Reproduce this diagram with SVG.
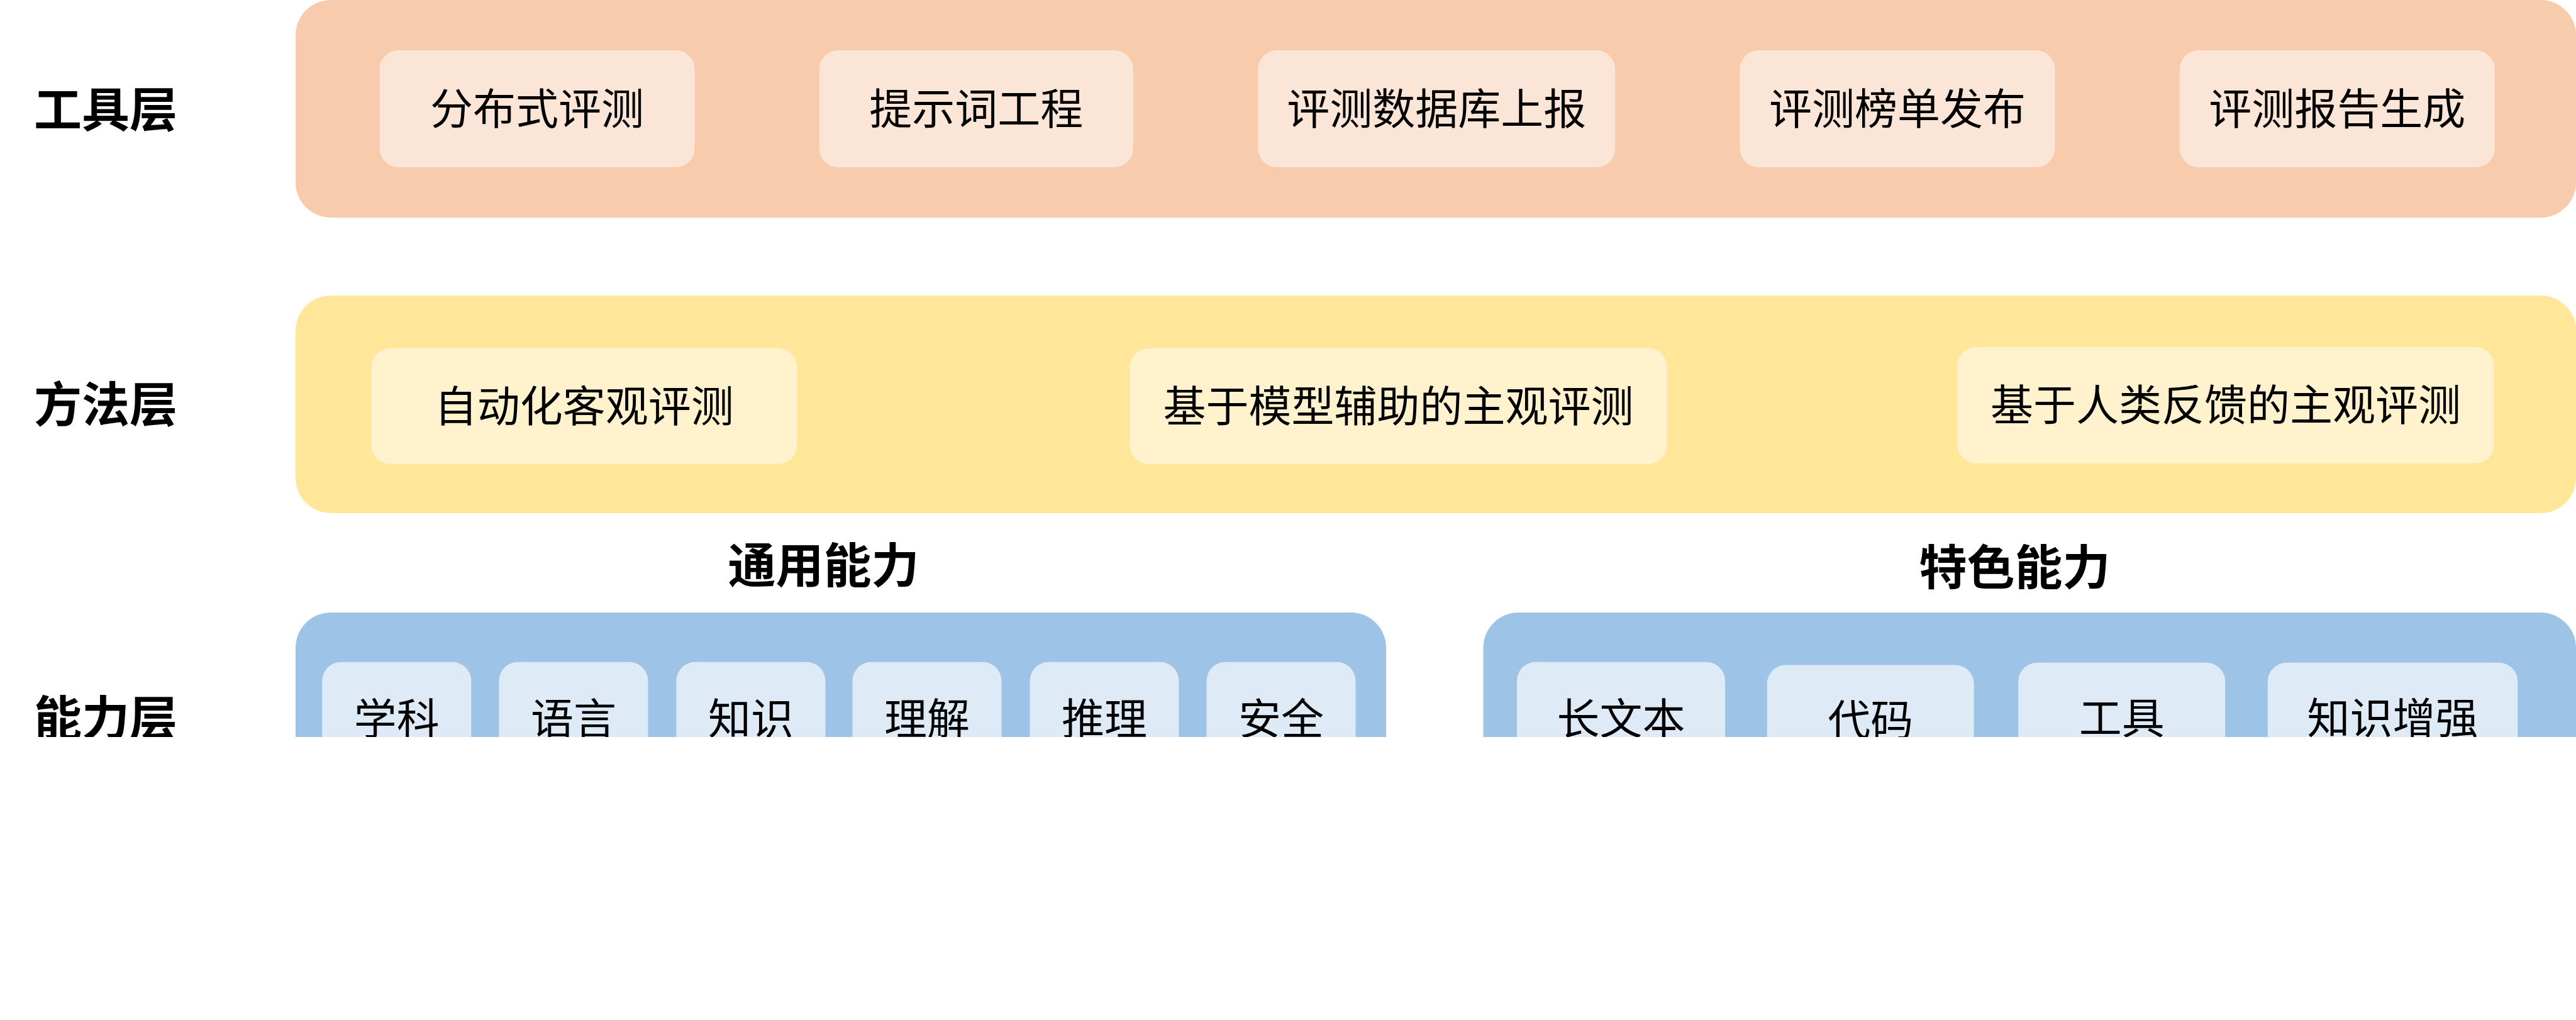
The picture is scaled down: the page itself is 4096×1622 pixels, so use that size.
<svg xmlns="http://www.w3.org/2000/svg" width="4096" height="1622" viewBox="0 0 4096 1622">
<defs>
<style>
.lbl{font-family:"Noto Sans CJK SC","Noto Sans",sans-serif;font-weight:700;font-size:76px;fill:#000;text-anchor:middle;dominant-baseline:central}
.t{font-family:"Noto Sans CJK SC","Noto Sans",sans-serif;font-weight:400;font-size:68px;fill:#000;text-anchor:middle;dominant-baseline:central}
.tool{fill:#F7CBAC}.toolIn{fill:#FBE5D6}
.meth{fill:#FFE699}.methIn{fill:#FFF2CC}
.cap{fill:#9DC3E6}.capIn{fill:#DEEBF7}
</style>
<clipPath id="cut"><rect x="0" y="0" width="4096" height="1172"/></clipPath>
</defs>
<rect width="4096" height="1622" fill="#fff"/>
<g clip-path="url(#cut)">
<g id="tool-layer">
<text class="lbl" x="168" y="169">工具层</text>
<rect class="tool" x="470" y="0" width="3626" height="346" rx="56"/>
<g id="tool-1"><rect class="toolIn" x="603.5" y="80" width="501" height="186" rx="30"/><text class="t" x="854" y="168">分布式评测</text></g>
<g id="tool-2"><rect class="toolIn" x="1302.8" y="80" width="499" height="186" rx="30"/><text class="t" x="1552.3" y="168">提示词工程</text></g>
<g id="tool-3"><rect class="toolIn" x="2000.3" y="80" width="568" height="186" rx="30"/><text class="t" x="2284.3" y="168">评测数据库上报</text></g>
<g id="tool-4"><rect class="toolIn" x="2766.4" y="80" width="501" height="186" rx="30"/><text class="t" x="3016.9" y="168">评测榜单发布</text></g>
<g id="tool-5"><rect class="toolIn" x="3465.8" y="80" width="501" height="186" rx="30"/><text class="t" x="3716.3" y="168">评测报告生成</text></g>
</g>
<g id="method-layer">
<text class="lbl" x="168" y="638">方法层</text>
<rect class="meth" x="470" y="470" width="3626" height="346" rx="56"/>
<g id="method-1"><rect class="methIn" x="590.3" y="553.7" width="677" height="184" rx="30"/><text class="t" x="928.8" y="641">自动化客观评测</text></g>
<g id="method-2"><rect class="methIn" x="1796.3" y="553.7" width="854.5" height="184" rx="30"/><text class="t" x="2223.5" y="641">基于模型辅助的主观评测</text></g>
<g id="method-3"><rect class="methIn" x="3112.3" y="551.8" width="853.5" height="185" rx="30"/><text class="t" x="3539" y="639">基于人类反馈的主观评测</text></g>
</g>
<g id="capability-layer">
<text class="lbl" x="168" y="1137">能力层</text>
<text class="lbl" x="1309.4" y="894">通用能力</text>
<text class="lbl" x="3203.5" y="897">特色能力</text>
<g id="general">
<rect class="cap" x="470" y="974" width="1734" height="400" rx="56"/>
<g id="cap-1"><rect class="capIn" x="512.3" y="1052.8" width="237" height="186" rx="30"/><text class="t" x="630.8" y="1138">学科</text></g>
<g id="cap-2"><rect class="capIn" x="793.4" y="1052.8" width="237" height="186" rx="30"/><text class="t" x="911.9" y="1138">语言</text></g>
<g id="cap-3"><rect class="capIn" x="1075.4" y="1052.8" width="237" height="186" rx="30"/><text class="t" x="1193.9" y="1138">知识</text></g>
<g id="cap-4"><rect class="capIn" x="1355.5" y="1052.8" width="237" height="186" rx="30"/><text class="t" x="1474" y="1138">理解</text></g>
<g id="cap-5"><rect class="capIn" x="1637.5" y="1052.8" width="237" height="186" rx="30"/><text class="t" x="1756" y="1138">推理</text></g>
<g id="cap-6"><rect class="capIn" x="1918.5" y="1052.8" width="237" height="186" rx="30"/><text class="t" x="2037" y="1138">安全</text></g>
</g>
<g id="special">
<rect class="cap" x="2358.5" y="974" width="1737.5" height="400" rx="56"/>
<g id="spec-1"><rect class="capIn" x="2412" y="1052.8" width="331" height="186" rx="30"/><text class="t" x="2577.5" y="1138">长文本</text></g>
<g id="spec-2"><rect class="capIn" x="2809.7" y="1057.5" width="329" height="186" rx="30"/><text class="t" x="2974.2" y="1140">代码</text></g>
<g id="spec-3"><rect class="capIn" x="3209.2" y="1053.7" width="329" height="186" rx="30"/><text class="t" x="3373.7" y="1137">工具</text></g>
<g id="spec-4"><rect class="capIn" x="3605.8" y="1053.7" width="397.6" height="186" rx="30"/><text class="t" x="3804.6" y="1137">知识增强</text></g>
</g>
</g>
</g>
<g id="connectors"/>
</svg>
